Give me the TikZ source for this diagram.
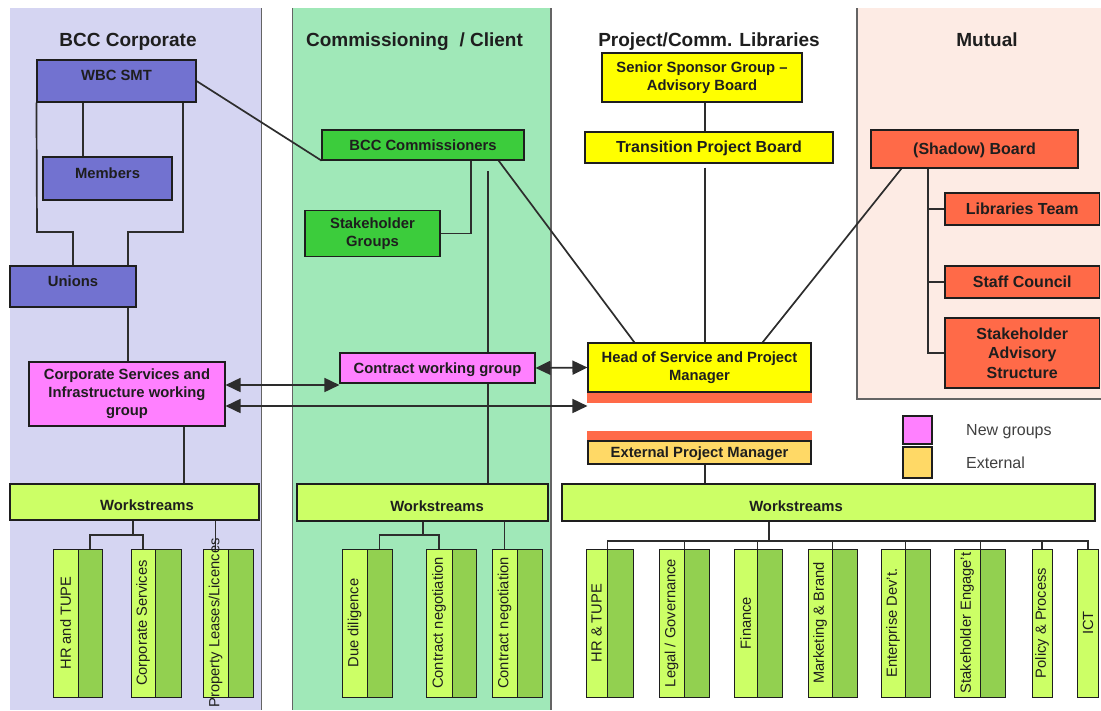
\documentclass[tikz,border=0pt]{standalone}
\usepackage{fontspec}
\usepackage{graphicx}
\setmainfont{Liberation Sans}
\usetikzlibrary{arrows.meta}

\pgfdeclarelayer{panel}
\pgfdeclarelayer{wires}
\pgfsetlayers{panel,wires,main}

\definecolor{lavbg}{RGB}{213,213,242}
\definecolor{mintbg}{RGB}{160,232,184}
\definecolor{peachbg}{RGB}{253,235,228}
\definecolor{slatec}{RGB}{114,114,208}
\definecolor{pinkgrp}{RGB}{255,128,255}
\definecolor{limec}{RGB}{204,255,102}
\definecolor{leafc}{RGB}{146,208,80}
\definecolor{grassc}{RGB}{60,204,60}
\definecolor{sunc}{RGB}{255,255,0}
\definecolor{coralc}{RGB}{255,106,72}
\definecolor{amberc}{RGB}{255,217,102}
\definecolor{inkc}{RGB}{30,30,30}
\definecolor{wirec}{RGB}{45,45,45}
\definecolor{edgec}{RGB}{100,100,100}

% rotated label for a workstream column, allowed to overflow the column
\newcommand\wstext[1]{\rotatebox{90}{\makebox[0pt]{#1}}}
% workstream column: light part with label, darker part on the right
\newcommand\wscol[5]{%
  \pgfmathsetmacro\wsA{(#2+#3)/2}%
  \pgfmathsetmacro\wsB{#3-#2}%
  \pgfmathsetmacro\wsC{(#3+#4)/2}%
  \pgfmathsetmacro\wsD{#4-#3}%
  \node[wlight, minimum width=\wsB pt] (#1) at (\wsA,623) {\wstext{#5}};
  \node[wdark, minimum width=\wsD pt] (#1-d) at (\wsC,623) {};
}

\begin{document}
\begin{tikzpicture}[x=1pt,y=-1pt,
  box/.style={draw=inkc, line width=1.1pt, inner sep=2pt, align=center,
    text=inkc, font=\bfseries\fontsize{14.8}{18}\selectfont},
  one/.style={text height=10.8pt, text depth=0pt},
  hightext/.style={text height=8pt, text depth=9pt},
  big/.style={font=\bfseries\fontsize{16}{19.5}\selectfont},
  wlight/.style={draw=inkc, line width=1pt, fill=limec, minimum height=148pt,
    inner sep=0pt, text=inkc, font=\fontsize{14.7}{17}\selectfont},
  wdark/.style={draw=inkc, line width=1pt, fill=leafc, minimum height=148pt, inner sep=0pt},
  wire/.style={draw=wirec, line width=1.7pt},
  branch/.style={draw=wirec, line width=1.2pt},
  arr/.style={wire, {Triangle[length=15pt,width=14pt]}-{Triangle[length=15pt,width=14pt]}},
  title/.style={font=\bfseries\fontsize{19}{22}\selectfont, text=inkc,
    text height=13.6pt, text depth=0pt, inner sep=0pt},
  legtext/.style={font=\fontsize{16}{19}\selectfont, text=black!75, inner sep=0pt,
    anchor=west, text height=11.5pt, text depth=0pt}
]
\useasboundingbox (0,0) rectangle (1101,710);

% ---------- swim-lane panels ----------
\begin{pgfonlayer}{panel}
  \fill[white] (0,0) rectangle (1101,710);
  \fill[lavbg] (10,8) rectangle (261.5,710);
  \draw[edgec, line width=1.6pt] (261.5,8) -- (261.5,710);
  \fill[mintbg] (292.5,8) rectangle (551,710);
  \draw[edgec, line width=1.6pt] (292.5,8) -- (292.5,710);
  \draw[edgec, line width=1.6pt] (551,8) -- (551,710);
  \fill[peachbg] (857,8) rectangle (1101,399);
  \draw[edgec, line width=1.6pt] (857,8) -- (857,399) -- (1101,399);
\end{pgfonlayer}

% ---------- lane titles ----------
\node[title] (tBCC) at (128,40) {BCC Corporate};
\node[title] (tCom) at (414.5,40) {Commissioning\hspace{0.3em} / Client};
\node[title] (tPrj) at (709,40) {Project/Comm. Libraries};
\node[title] (tMut) at (987,40) {Mutual};

% ---------- BCC Corporate ----------
\node[box, hightext, fill=slatec, minimum width=159pt, minimum height=42pt] (wbc) at (116.5,81) {WBC SMT};
\node[box, hightext, fill=slatec, minimum width=129pt, minimum height=43pt] (members) at (107.5,178.5) {Members};
\node[box, hightext, fill=slatec, minimum width=126pt, minimum height=41pt] (unions) at (73,286.5) {Unions};
\node[box, fill=pinkgrp, minimum width=196pt, minimum height=64pt] (csi) at (127,394)
  {Corporate Services and\\Infrastructure working\\group};
\node[box, fill=limec, text height=17pt, text depth=0pt, minimum width=249pt, minimum height=36pt] (wsL) at (134.5,502)
  {\hspace*{25pt}Workstreams};

% ---------- Commissioning / Client ----------
\node[box, one, fill=grassc, minimum width=202pt, minimum height=30pt] (bccc) at (423,145) {BCC Commissioners};
\node[box, fill=grassc, minimum width=135pt, minimum height=46pt] (stg) at (372.5,233.5) {Stakeholder\\Groups};
\node[box, one, fill=pinkgrp, minimum width=195pt, minimum height=30pt] (cwg) at (437.5,368) {Contract working group};
\node[box, fill=limec, text height=17pt, text depth=0pt, minimum width=251pt, minimum height=37pt] (wsM) at (422.5,502.5)
  {\hspace*{29pt}Workstreams};

% ---------- Project / Comm. Libraries ----------
\node[box, fill=sunc, minimum width=200pt, minimum height=49pt] (ssg) at (702,77.5)
  {Senior Sponsor Group –\\Advisory Board};
\node[box, one, big, fill=sunc, minimum width=248pt, minimum height=31pt] (tpb) at (709,147.5) {Transition Project Board};
\node[box, fill=sunc, minimum width=223pt, minimum height=49pt] (head) at (699.5,367.5)
  {Head of Service and Project\\Manager};
\fill[coralc] (head.south west) rectangle ([yshift=-10pt]head.south east);
\node[box, one, fill=amberc, minimum width=223pt, minimum height=23pt] (epm) at (699.5,452.5) {External Project Manager};
\fill[coralc] ([yshift=9pt]epm.north west) rectangle (epm.north east);
\node[box, fill=limec, text height=17pt, text depth=0pt, minimum width=533pt, minimum height=37pt] (wsR) at (828.5,502.5)
  {Workstreams\hspace*{65pt}};

% ---------- Mutual ----------
\node[box, one, big, fill=coralc, minimum width=207pt, minimum height=38pt] (shadow) at (974.5,149) {(Shadow) Board};
\node[box, one, big, fill=coralc, minimum width=154.5pt, minimum height=32pt] (lib) at (1022.25,209) {Libraries Team};
\node[box, one, big, fill=coralc, minimum width=154.5pt, minimum height=32pt] (staff) at (1022.25,282) {Staff Council};
\node[box, big, fill=coralc, minimum width=154.5pt, minimum height=70pt] (sas) at (1022.25,353)
  {Stakeholder\\Advisory\\Structure};

% ---------- legend ----------
\node[draw=inkc, line width=1.1pt, fill=pinkgrp, minimum width=29pt, minimum height=28pt, inner sep=0pt] (lgN) at (917.5,430) {};
\node[draw=inkc, line width=1.1pt, fill=amberc, minimum width=29pt, minimum height=31pt, inner sep=0pt] (lgE) at (917.5,462.5) {};
\node[legtext] (lgNt) at (966,430) {New groups};
\node[legtext] (lgEt) at (966,462.5) {External};

% ---------- workstream columns ----------
\wscol{hrt}{53}{78}{102}{HR and TUPE}
\wscol{corp}{131}{155}{181}{Corporate Services}
\wscol{prop}{203}{228}{253}{Property Leases/Licences}
\wscol{due}{342}{367}{392}{Due diligence}
\wscol{cna}{426}{452}{476}{Contract negotiation}
\wscol{cnb}{492}{517}{542}{Contract negotiation}
\wscol{hrb}{586}{607}{633}{HR \& TUPE}
\wscol{legal}{659}{684}{709}{Legal / Governance}
\wscol{fin}{734}{757}{782}{Finance}
\wscol{mkt}{808}{832}{857}{Marketing \& Brand}
\wscol{ent}{881}{905}{930}{Enterprise Dev't.}
\wscol{stk}{954}{980}{1005}{Stakeholder Engage't}
\node[wlight, minimum width=20pt] (pol) at (1042,623) {\wstext{Policy \& Process}};
\node[wlight, minimum width=21pt] (ict) at (1088,623) {\wstext{ICT}};

% ---------- connectors ----------
\coordinate (cM) at (83,0);
\coordinate (cL) at (37,232);
\coordinate (cR) at (183,232);
\coordinate (cU) at (128,232);
\coordinate (cC) at (184,0);
\coordinate (cS) at (471,0);
\coordinate (cV) at (488,171);
\coordinate (cP) at (705,0);
\coordinate (cB) at (928,0);
\coordinate (jL) at (133,535);
\coordinate (jM) at (423,535);
\coordinate (jR) at (769,541);
\coordinate (a1) at ([yshift=9pt]csi.east);
\coordinate (a2) at ([yshift=-12pt]csi.east);

\begin{pgfonlayer}{wires}
  \draw[wire] (wbc.south -| cM) -- (members.north -| cM);
  \draw[wire] (wbc.south west) -- (cL) -| (unions.north);
  \draw[wire] (wbc.south -| cR) -- (cR) -- (cU) -- (unions.north -| cU);
  \draw[wire] (unions.south -| cU) -- (csi.north -| cU);
  \draw[wire] (csi.south -| cC) -- (wsL.north -| cC);
  \draw[wire] (wbc.east) -- (bccc.south west);
  \draw[wire] (bccc.south -| cS) |- (stg.east);
  \draw[wire] (cV) -- (wsM.north -| cV);
  \draw[wire] ([xshift=-26pt]bccc.south east) -- ([xshift=47pt]head.north west);
  \draw[wire] (ssg.south -| cP) -- (tpb.north -| cP);
  \draw[wire] ([yshift=-4pt]tpb.south -| cP) -- (head.north -| cP);
  \draw[wire] (epm.south -| cP) -- (wsR.north -| cP);
  \draw[wire] ([xshift=31pt]shadow.south west) -- ([xshift=-49pt]head.north east);
  \draw[wire] (shadow.south -| cB) |- (sas.west);
  \draw[wire] (lib.west) -- (lib.west -| cB);
  \draw[wire] (staff.west) -- (staff.west -| cB);

  \draw[arr] (a1) -- (a1 -| cwg.west);
  \draw[arr] (cwg.east) -- (head.west);
  \draw[arr] (a2) -- (a2 -| head.west);

  \draw[branch] (wsL.south -| jL) -- (jL);
  \draw[branch] (hrt-d.north) |- (jL) -| (corp.north);
  \draw[branch] (prop.north |- wsL.south) -- (prop.north);
  \draw[branch] (wsM.south -| jM) -- (jM);
  \draw[branch] (due-d.north) |- (jM) -| (cna.north);
  \draw[branch] (cnb.north |- wsM.south) -- (cnb.north);
  \draw[branch] (wsR.south -| jR) -- (jR);
  \draw[branch] (hrb.north east) |- (jR) -| (ict.north);
  \foreach \n in {legal,fin,mkt,ent,stk}
    \draw[branch] (\n.north east) -- (\n.north east |- jR);
  \draw[branch] (pol.north) -- (pol.north |- jR);
\end{pgfonlayer}
\end{tikzpicture}
\end{document}
